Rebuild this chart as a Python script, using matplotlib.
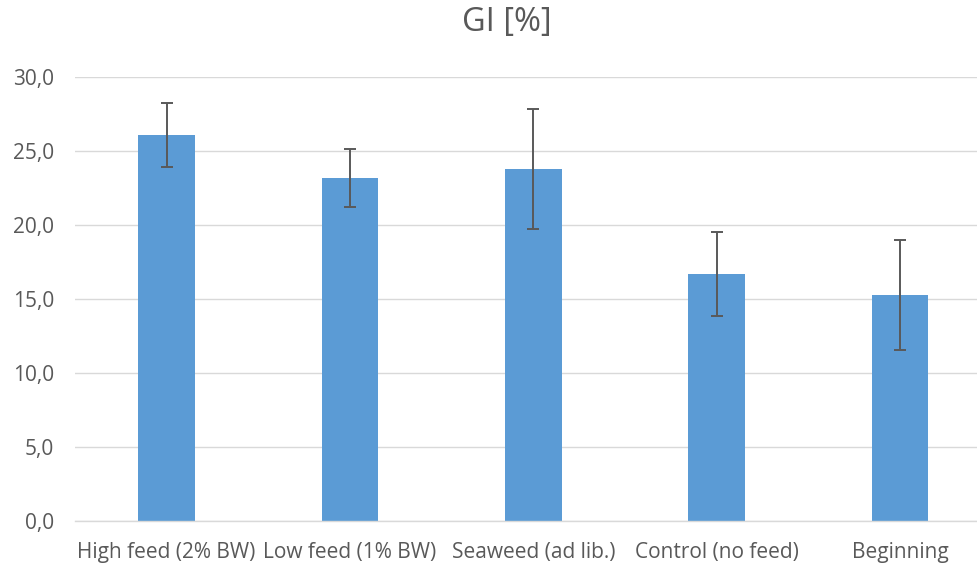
import matplotlib.pyplot as plt
import matplotlib.ticker as mtick

categorias = ['High feed (2% BW)', 'Low feed (1% BW)', 'Seaweed (ad lib.)',
              'Control (no feed)', 'Beginning']
gi_media = [26.05, 23.16, 23.78, 16.67, 15.25]
gi_error = [2.17, 1.95, 4.07, 2.84, 3.73]
y_ticks = [0, 5, 10, 15, 20, 25, 30]

plt.rcParams['font.family'] = ['Open Sans', 'DejaVu Sans']
gris = '#595959'

fig = plt.figure(figsize=(9.78, 5.65), dpi=100)
ax = fig.add_axes([75 / 978, 1 - 520.7 / 565, 1 - 75 / 978, (520.7 - 76.7) / 565])

x = range(len(categorias))
ax.bar(x, gi_media, width=0.31, color='#5B9BD5', zorder=2,
       yerr=gi_error, capsize=4.5,
       error_kw=dict(ecolor=gris, elinewidth=1.4, capthick=1.4))

ax.set_xlim(-0.5, 4.5 - (991.7 - 978) / 183.3)
ax.set_ylim(0, 30)
ax.set_yticks(y_ticks)
ax.yaxis.set_major_formatter(mtick.FuncFormatter(lambda v, p: f'{v:.1f}'.replace('.', ',')))
ax.set_xticks(list(x))
ax.set_xticklabels(categorias)

ax.grid(axis='y', color='#D9D9D9', linewidth=1, zorder=0)
for lado in ['top', 'right', 'left']:
    ax.spines[lado].set_visible(False)
ax.spines['bottom'].set_color('#D9D9D9')
ax.spines['bottom'].set_linewidth(1)
ax.tick_params(axis='both', length=0, labelsize=15, labelcolor=gris)
ax.tick_params(axis='y', pad=15)
ax.tick_params(axis='x', pad=15)

fig.text(507 / 978, 1 - 22 / 565, 'GI [%]', ha='center', va='center',
         fontsize=23.5, color=gris)

fig.savefig('out.png', dpi=100)
